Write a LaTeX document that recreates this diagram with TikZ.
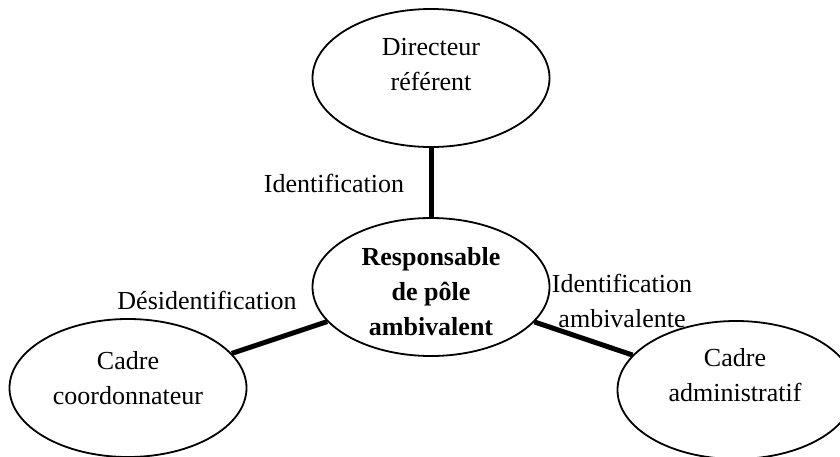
\documentclass[tikz,border=0pt]{standalone}
\usepackage{fontspec}
\setmainfont{Liberation Serif}
\usetikzlibrary{shapes.geometric}
\begin{document}
\begin{tikzpicture}[x=0.5pt,y=-0.5pt,
  pole/.style={ellipse,draw,line width=0.9pt,minimum width=118.5pt,minimum height=69pt,inner sep=0pt},
  txt/.style={align=center,font=\fontsize{13pt}{17.5pt}\selectfont,inner sep=0pt},
  link/.style={line width=2.5pt}]
\useasboundingbox (0,0) rectangle (840,456);
% the four poles
\node[pole] (top) at (431,78) {};
\node[pole] (mid) at (431,287) {};
\node[pole] (left) at (128,388) {};
\node[pole] (right) at (736,390) {};
% texts inside the poles
\node[txt] (toptxt) at (431,64.5) {Directeur\\référent};
\node[txt,font=\fontsize{13pt}{17.5pt}\selectfont\bfseries] (midtxt) at (431,292) {Responsable\\de pôle\\ambivalent};
\node[txt] (lefttxt) at (128,378) {Cadre\\coordonnateur};
\node[txt] (righttxt) at (735,375.5) {Cadre\\administratif};
% links
\draw[link] (mid) -- (top);
\draw[link] (mid) -- (left);
\draw[link] (mid) -- (right);
% link labels
\node[txt] (lbltop) at (334,183) {Identification};
\node[txt] (lblleft) at (207,300) {Désidentification};
\node[txt] (lblright) at (622,300.5) {Identification\\ambivalente};
\end{tikzpicture}
\end{document}
